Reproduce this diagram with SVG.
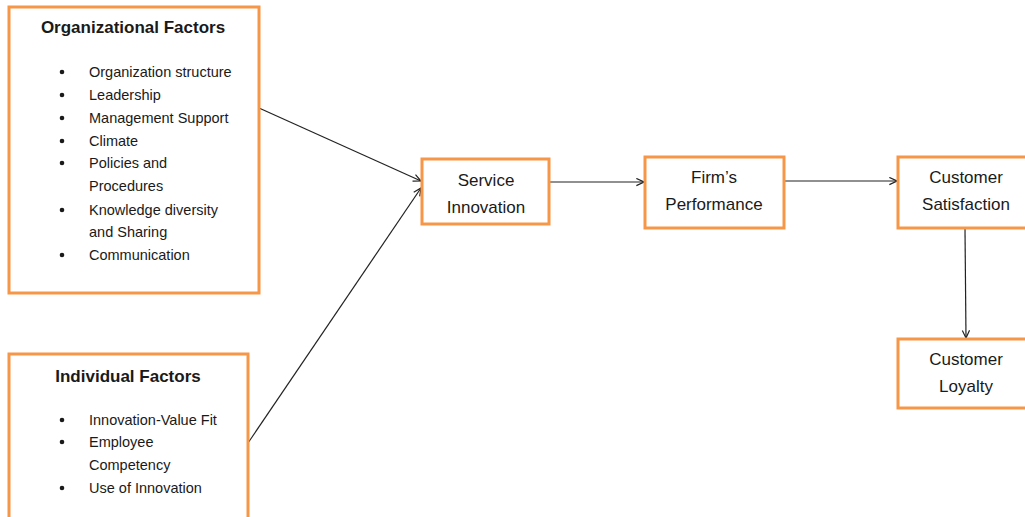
<svg xmlns="http://www.w3.org/2000/svg" width="1025" height="517" viewBox="0 0 1025 517">
<defs>
<style>
.box{fill:#fff;stroke:#F79646;stroke-width:3}
.t{font-family:"Liberation Sans",Arial,sans-serif;fill:#1a1a1a}
.title{font-size:17px;font-weight:bold}
.item{font-size:14.5px}
.node{font-size:17px}
.c{fill:none;stroke:#222;stroke-width:1.2}
</style>
<marker id="ah" viewBox="0 0 10 10" refX="9.5" refY="5" markerWidth="9" markerHeight="9" orient="auto" markerUnits="userSpaceOnUse">
<path d="M1,1 L9.5,5 L1,9" fill="none" stroke="#222" stroke-width="1.3"/>
</marker>
</defs>
<rect width="1025" height="517" fill="#fff"/>
<g id="connectors">
<line class="c" x1="259" y1="108" x2="421" y2="181" marker-end="url(#ah)"/>
<line class="c" x1="248" y1="443" x2="421" y2="188" marker-end="url(#ah)"/>
<line class="c" x1="549" y1="182" x2="644" y2="182" marker-end="url(#ah)"/>
<line class="c" x1="784" y1="181" x2="897" y2="181" marker-end="url(#ah)"/>
<line class="c" x1="965" y1="229" x2="966" y2="338" marker-end="url(#ah)"/>
</g>
<g id="org-factors">
<rect class="box" x="9" y="7" width="250" height="286"/>
<text class="t title" x="133" y="33" text-anchor="middle">Organizational Factors</text>
<g class="t item">
<circle cx="62" cy="72" r="2.3"/><text x="89" y="77">Organization structure</text>
<circle cx="62" cy="95" r="2.3"/><text x="89" y="100">Leadership</text>
<circle cx="62" cy="118" r="2.3"/><text x="89" y="123">Management Support</text>
<circle cx="62" cy="141" r="2.3"/><text x="89" y="146">Climate</text>
<circle cx="62" cy="163" r="2.3"/><text x="89" y="168">Policies and</text>
<text x="89" y="191">Procedures</text>
<circle cx="62" cy="210" r="2.3"/><text x="89" y="215">Knowledge diversity</text>
<text x="89" y="237">and Sharing</text>
<circle cx="62" cy="255" r="2.3"/><text x="89" y="260">Communication</text>
</g>
</g>
<g id="ind-factors">
<rect class="box" x="9" y="354" width="239" height="170"/>
<text class="t title" x="128" y="382" text-anchor="middle">Individual Factors</text>
<g class="t item">
<circle cx="62" cy="420" r="2.3"/><text x="89" y="425">Innovation-Value Fit</text>
<circle cx="62" cy="442" r="2.3"/><text x="89" y="447">Employee</text>
<text x="89" y="470">Competency</text>
<circle cx="62" cy="488" r="2.3"/><text x="89" y="493">Use of Innovation</text>
</g>
</g>
<g id="service-innovation">
<rect class="box" x="422" y="159" width="127" height="65"/>
<text class="t node" x="486" y="186" text-anchor="middle">Service</text>
<text class="t node" x="486" y="213" text-anchor="middle">Innovation</text>
</g>
<g id="firms-performance">
<rect class="box" x="645" y="157" width="139" height="71"/>
<text class="t node" x="714" y="183" text-anchor="middle">Firm’s</text>
<text class="t node" x="714" y="210" text-anchor="middle">Performance</text>
</g>
<g id="customer-satisfaction">
<rect class="box" x="898" y="157" width="135" height="71"/>
<text class="t node" x="966" y="183" text-anchor="middle">Customer</text>
<text class="t node" x="966" y="210" text-anchor="middle">Satisfaction</text>
</g>
<g id="customer-loyalty">
<rect class="box" x="898" y="339" width="135" height="69"/>
<text class="t node" x="966" y="365" text-anchor="middle">Customer</text>
<text class="t node" x="966" y="392" text-anchor="middle">Loyalty</text>
</g>
</svg>
